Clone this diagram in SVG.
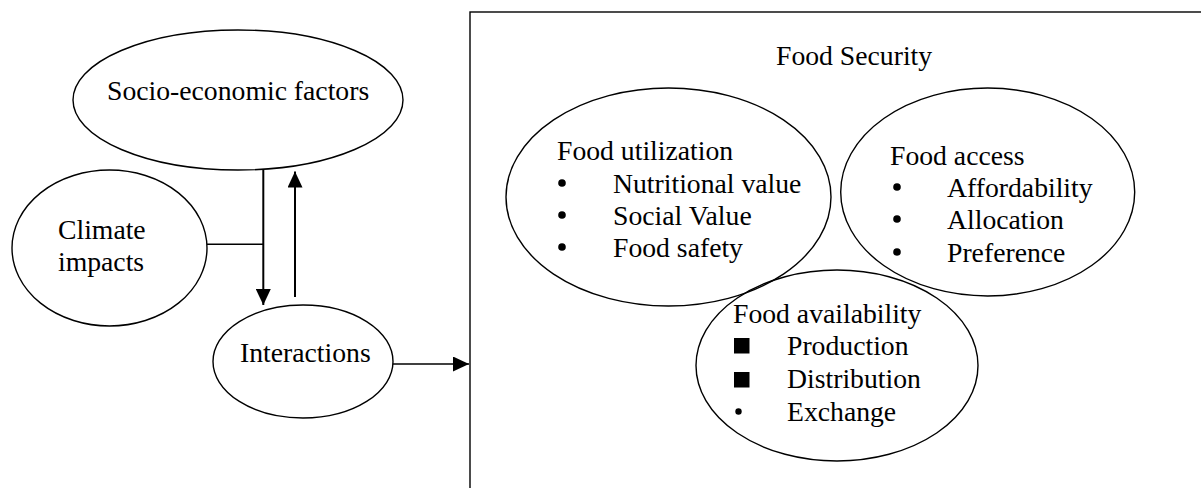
<svg xmlns="http://www.w3.org/2000/svg" width="1201" height="488" viewBox="0 0 1201 488">
<style>
text{font-family:"Liberation Serif","Times New Roman",serif;font-size:27.7px;fill:#000}
.n{fill:none;stroke:#000;stroke-width:1.4}
.c{fill:none;stroke:#000;stroke-width:1.6}
.a{fill:none;stroke:#000;stroke-width:2}
.b{fill:#000}
</style>
<defs>
<marker id="ah" viewBox="0 0 16 15" refX="16" refY="7.5" markerWidth="16" markerHeight="15" markerUnits="userSpaceOnUse" orient="auto">
<path d="M0,0 L16,7.5 L0,15 Z" fill="#000"/>
</marker>
</defs>
<rect x="0" y="0" width="1201" height="488" fill="#fff"/>
<g id="food-security">
<rect class="n" x="470" y="12" width="760" height="500"/>
<text x="776" y="65">Food Security</text>
</g>
<g id="socio-economic">
<ellipse class="n" cx="238" cy="100" rx="165" ry="70"/>
<text x="107" y="100">Socio-economic factors</text>
</g>
<g id="climate">
<ellipse class="n" cx="109.5" cy="248" rx="97.5" ry="78"/>
<text x="58" y="239">Climate</text>
<text x="58" y="271">impacts</text>
</g>
<g id="interactions">
<ellipse class="n" cx="303" cy="361.5" rx="90" ry="56.5"/>
<text x="240" y="362">Interactions</text>
</g>
<g id="food-utilization">
<ellipse class="n" cx="668.5" cy="197" rx="162.5" ry="109"/>
<text x="557" y="160">Food utilization</text>
<circle class="b" cx="562" cy="183" r="3.8"/><text x="613" y="193">Nutritional value</text>
<circle class="b" cx="562" cy="215" r="3.8"/><text x="613" y="225">Social Value</text>
<circle class="b" cx="562" cy="247" r="3.8"/><text x="613" y="257">Food safety</text>
</g>
<g id="food-access">
<ellipse class="n" cx="987.7" cy="192" rx="147" ry="104"/>
<text x="890" y="165">Food access</text>
<circle class="b" cx="897" cy="187" r="3.8"/><text x="947" y="197">Affordability</text>
<circle class="b" cx="897" cy="219" r="3.8"/><text x="947" y="229">Allocation</text>
<circle class="b" cx="897" cy="252" r="3.8"/><text x="947" y="262">Preference</text>
</g>
<g id="food-availability">
<ellipse class="n" cx="837" cy="365.5" rx="141" ry="95.5"/>
<text x="733" y="323">Food availability</text>
<rect x="734" y="338" width="15.5" height="15.5" fill="#000"/><text x="787" y="355">Production</text>
<rect x="734" y="372" width="15.5" height="15.5" fill="#000"/><text x="787" y="388">Distribution</text>
<circle class="b" cx="738.5" cy="411.5" r="3.2"/><text x="787" y="421">Exchange</text>
</g>
<g id="connectors">
<line class="n" x1="207" y1="244.3" x2="263.3" y2="244.3"/>
<line class="a" x1="263.3" y1="170" x2="263.3" y2="305" marker-end="url(#ah)"/>
<line class="a" x1="295" y1="297" x2="295" y2="171.5" marker-end="url(#ah)"/>
<line class="c" x1="393" y1="364" x2="469" y2="364" marker-end="url(#ah)"/>
</g>
</svg>
